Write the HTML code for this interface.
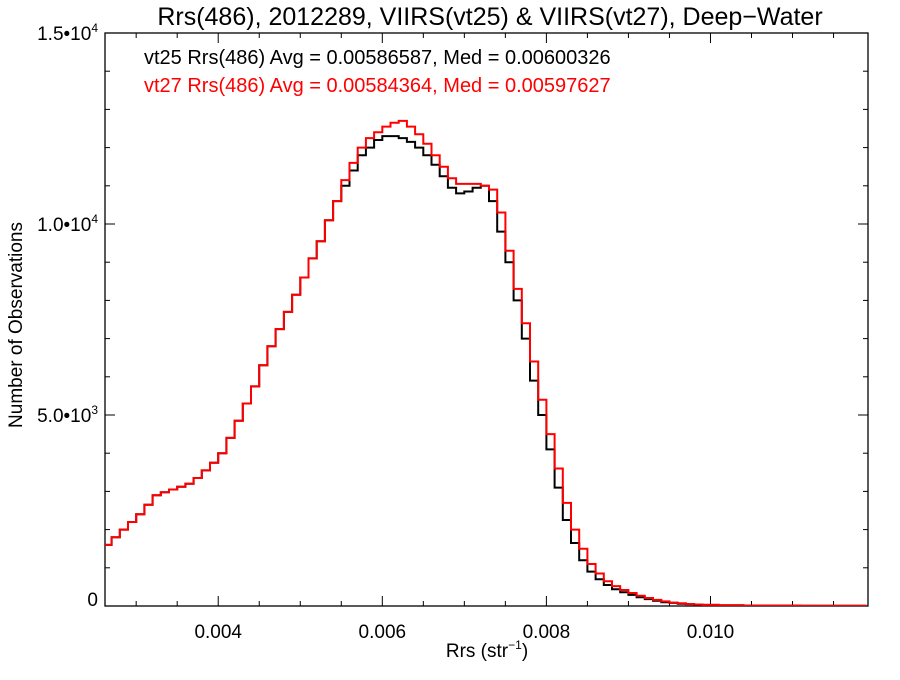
<!DOCTYPE html>
<html><head><meta charset="utf-8"><style>
body{margin:0;background:#fff;}
svg text{font-family:"Liberation Sans",sans-serif;}
</style></head><body>
<svg id="chart" width="900" height="675" viewBox="0 0 900 675" xmlns="http://www.w3.org/2000/svg">
<text x="490" y="25" font-size="25" text-anchor="middle">Rrs(486), 2012289, VIIRS(vt25) &amp; VIIRS(vt27), Deep−Water</text>
<text x="144" y="64" font-size="20" fill="#000">vt25 Rrs(486) Avg = 0.00586587, Med = 0.00600326</text>
<text x="144" y="92" font-size="20" fill="#f00">vt27 Rrs(486) Avg = 0.00584364, Med = 0.00597627</text>
<text x="487" y="657" font-size="19" text-anchor="middle">Rrs (str<tspan font-size="12" dy="-8">−1</tspan><tspan dy="8">)</tspan></text>
<text transform="translate(22,325) rotate(-90)" font-size="19" text-anchor="middle">Number of Observations</text>
<g id="axes"></g>
<g id="series"></g>
</svg>
<script>
const binStart = 0.0026;
const binWidth = 0.0001;
const vt25Counts = [1600,1800,2000,2200,2400,2650,2900,2980,3050,3120,3200,3350,3550,3750,4000,4400,4850,5300,5750,6300,6800,7250,7700,8150,8600,9100,9550,10100,10600,11000,11400,11800,12000,12200,12300,12300,12250,12150,12000,11800,11550,11250,10950,10800,10850,10950,11000,10600,9800,9000,8000,7000,5900,5000,4100,3100,2250,1650,1200,900,700,550,440,360,290,230,180,140,100,80,60,50,40,30,30,20,20,20,10,10,10,10,10,10,10,5,5,5,5,5,5,5,5];
const vt27Counts = [1600,1800,2000,2200,2400,2650,2900,2980,3050,3120,3200,3350,3550,3750,4000,4400,4850,5300,5750,6300,6800,7250,7700,8150,8600,9100,9550,10100,10600,11150,11600,12000,12250,12400,12550,12650,12700,12550,12350,12100,11800,11500,11200,11050,11050,11050,11000,10900,10300,9300,8300,7400,6400,5400,4500,3600,2700,2000,1500,1100,850,650,520,420,340,270,210,160,120,90,70,50,40,30,30,20,20,20,10,10,10,10,10,10,10,5,5,5,5,5,5,5,5];
const xTicks = [0.004,0.006,0.008,0.010];
const xTickLabels = ["0.004","0.006","0.008","0.010"];
const yTicks = [0,5000,10000,15000];
const yTickMant = ["0","5.0","1.0","1.5"];
const yTickExp = ["","3","4","4"];

const L=105,R=868,T=33,B=606;
const xMin=0.00262,xMax=0.01192,yMax=15000;
const X=v=>L+(v-xMin)/(xMax-xMin)*(R-L);
const Y=v=>B-v/yMax*(B-T);
const NS="http://www.w3.org/2000/svg";
function mk(tag,attrs,parent){const e=document.createElementNS(NS,tag);for(const k in attrs)e.setAttribute(k,attrs[k]);parent.appendChild(e);return e;}
const axes=document.getElementById('axes'), series=document.getElementById('series');

function drawSeries(counts,color,name){
  let d='';
  counts.forEach((c,i)=>{
    const x0=X(binStart+i*binWidth), x1=X(binStart+(i+1)*binWidth), y=Y(c);
    d+=(i===0?'M':'L')+x0.toFixed(1)+','+y.toFixed(1)+'L'+x1.toFixed(1)+','+y.toFixed(1);
  });
  const p=mk('path',{d:d,fill:'none',stroke:color,'stroke-width':2,'clip-path':'url(#clip)'},series);
  
  
}
const defs=mk('defs',{},series);
const cp=mk('clipPath',{id:'clip'},defs);
mk('rect',{x:L,y:T,width:R-L,height:B-T},cp);
drawSeries(vt25Counts,'#000','series-vt25');
drawSeries(vt27Counts,'#f00','series-vt27');

const frame=mk('rect',{x:L,y:T,width:R-L,height:B-T,fill:'none',stroke:'#000','stroke-width':1.3},axes);


for(let v=0.003;v<=0.0119;v+=0.0005){
  const x=X(v); const major=xTicks.some(t=>Math.abs(t-v)<1e-7); const len=major?10:5;
  mk('line',{x1:x,x2:x,y1:B,y2:B-len,stroke:'#000','stroke-width':1},axes);
  mk('line',{x1:x,x2:x,y1:T,y2:T+len,stroke:'#000','stroke-width':1},axes);
}
xTicks.forEach((v,i)=>{
  const t=mk('text',{x:X(v),y:638,'font-size':19,'text-anchor':'middle'},axes);
  t.textContent=xTickLabels[i];
  
  
});
for(let v=0;v<=15000;v+=1000){
  const y=Y(v); const major=v%5000===0; const len=major?10:5;
  mk('line',{x1:L,x2:L+len,y1:y,y2:y,stroke:'#000','stroke-width':1},axes);
  mk('line',{x1:R,x2:R-len,y1:y,y2:y,stroke:'#000','stroke-width':1},axes);
}
yTicks.forEach((v,i)=>{
  const t=mk('text',{x:98,y:Y(v)+(i===0?0:7),'font-size':19,'text-anchor':'end'},axes);
  
  
  if(yTickExp[i]){
    t.appendChild(document.createTextNode(yTickMant[i]+'•10'));
    const s=document.createElementNS(NS,'tspan');s.setAttribute('font-size','12');s.setAttribute('dy','-8');s.textContent=yTickExp[i];t.appendChild(s);
  } else t.textContent=yTickMant[i];
});
</script>
</body></html>
